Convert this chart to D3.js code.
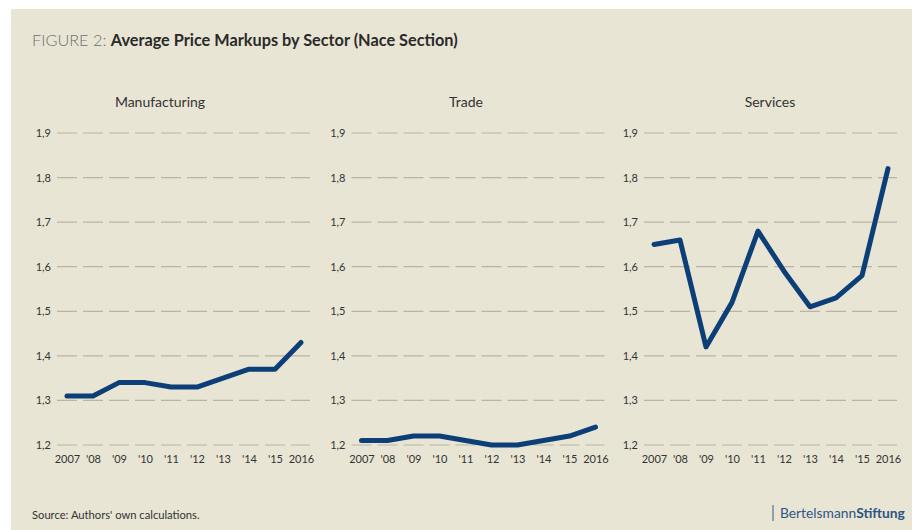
<!DOCTYPE html>
<html><head><meta charset="utf-8">
<script src="https://cdn.jsdelivr.net/npm/d3@7"></script>
<style>body{margin:0;background:#fff;} svg{display:block;font-family:Lato,"Open Sans",sans-serif;}</style>
</head><body>
<svg id="chart" width="915" height="530"></svg>
<script>
const years = [2007,2008,2009,2010,2011,2012,2013,2014,2015,2016];
const yearLabels = ["2007","'08","'09","'10","'11","'12","'13","'14","'15","2016"];
const sectors = ["Manufacturing","Trade","Services"];
const manufacturing = [1.31,1.31,1.34,1.34,1.33,1.33,1.35,1.37,1.37,1.43];
const trade = [1.21,1.21,1.22,1.22,1.21,1.20,1.20,1.21,1.22,1.24];
const services = [1.65,1.66,1.42,1.52,1.68,1.59,1.51,1.53,1.58,1.82];
const yTicks = [1.2,1.3,1.4,1.5,1.6,1.7,1.8,1.9];
const seriesValues = [manufacturing, trade, services];

const svg = d3.select("#chart");
svg.append("rect").attr("x",11).attr("y",9).attr("width",901).attr("height",521).attr("fill","#e9e5d4");

const title = svg.append("text").attr("x",32).attr("y",46).attr("font-size",16.3).attr("fill","#2a2a2a");
title.append("tspan").attr("fill","#707070").attr("font-weight",300).text("FIGURE 2: ");
title.append("tspan").attr("font-weight",700).text("Average Price Markups by Sector (Nace Section)");

const panelX = [57, 351.5, 644];
const titleX = [160, 466, 770];
const gridW = 253;
const y = d3.scaleLinear().domain([1.2,1.9]).range([445,133]);

sectors.forEach((name,i)=>{
  const g = svg.append("g").attr("transform",`translate(${panelX[i]},0)`);
  const x = d3.scalePoint().domain(years).range([10,244]);
  svg.append("text").attr("x",titleX[i]).attr("y",107).attr("text-anchor","middle")
    .attr("font-size",14).attr("fill","#333").text(name);
  g.selectAll("line.grid").data(yTicks).join("line")
    .attr("x1",0).attr("x2",gridW)
    .attr("y1",d=>y(d)).attr("y2",d=>y(d))
    .attr("stroke","#b9b4a4").attr("stroke-width",1.2)
    .attr("stroke-dasharray","20,6");
  const ya = d3.axisLeft(y).tickValues(yTicks).tickSize(0).tickPadding(6)
    .tickFormat(d=>d3.format(".1f")(d).replace(".",","));
  const yg = g.append("g").call(ya);
  yg.select(".domain").remove();
  yg.selectAll("text").attr("font-size",11).attr("fill","#333").attr("font-family","Lato, sans-serif");
  const xa = d3.axisBottom(x).tickSize(0).tickPadding(0).tickFormat((d,j)=>yearLabels[j]);
  const xg = g.append("g").attr("transform","translate(0,455)").call(xa);
  xg.select(".domain").remove();
  xg.selectAll("text").attr("font-size",11).attr("fill","#333").attr("font-family","Lato, sans-serif");
  const line = d3.line().x((d,j)=>x(years[j])).y(d=>y(d));
  g.append("path").datum(seriesValues[i]).attr("d",line)
    .attr("fill","none").attr("stroke","#0c3f78").attr("stroke-width",5)
    .attr("stroke-linejoin","round").attr("stroke-linecap","round");
});

svg.append("text").attr("x",32).attr("y",519).attr("font-size",11.2).attr("fill","#333").text("Source: Authors' own calculations.");
svg.append("line").attr("x1",773).attr("x2",773).attr("y1",505).attr("y2",521).attr("stroke","#3a5a80").attr("stroke-width",1);
const brand = svg.append("text").attr("x",780).attr("y",518).attr("font-size",13.8).attr("fill","#2b5583");
brand.append("tspan").text("Bertelsmann");
brand.append("tspan").attr("font-weight",700).text("Stiftung");
</script>
</body></html>
